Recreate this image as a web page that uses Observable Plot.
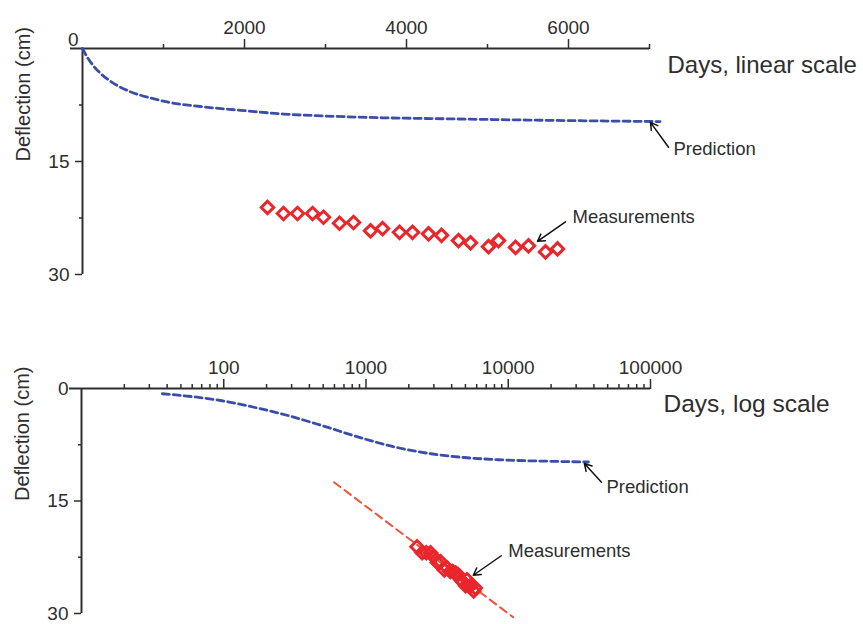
<!DOCTYPE html>
<html><head><meta charset="utf-8">
<script src="https://cdn.jsdelivr.net/npm/d3@7"></script>
<script src="https://cdn.jsdelivr.net/npm/@observablehq/plot@0.6"></script>
<style>
body{margin:0;background:#fff;}
#chart svg{display:block;}
</style></head><body><div id="chart"></div>
<script>
// ---- data ----
const measDays = [2284,2481,2654,2840,2975,3173,3346,3556,3704,3914,4074,4272,4432,4642,4790,5012,5136,5346,5506,5716,5864];
const measDefl = [21.1,21.9,21.9,21.9,22.4,23.2,23.1,24.2,23.9,24.4,24.4,24.6,24.8,25.5,25.8,26.3,25.5,26.4,26.2,27.0,26.6];

const predLinDays = [0,50,120,222,300,428,560,716,850,1045,1457,1950,2480,3100,3716,4296,5500,7130];
const predLinDefl = [0,1.0,2.1,3.3,4.0,4.9,5.6,6.2,6.6,7.1,7.7,8.2,8.7,9.0,9.2,9.3,9.5,9.7];

const predLogDays = [37,95,163,282,482,968,1680,2870,4900,8510,19100,36600];
const predLogDefl = [0.7,1.6,2.5,3.6,4.9,6.7,7.9,8.7,9.2,9.5,9.7,9.8];

const fitLogDays = [596,10840];
const fitLogDefl = [12.5,30.5];

const linMajorTicks = [2000,4000,6000];
const linMinorTicks = [1000,3000,5000,7000];
const logMajorTicks = [100,1000,10000,100000];
const yMajorTicks = [15,30];
const yMinorTicks = [7.5,22.5];

const annotLabels = ["Prediction","Measurements"];
// linear panel annotations
const linLabelDays = [7296,6049];
const linLabelDefl = [13.4,22.4];
const linArrowFromDays = [7235,5963];
const linArrowFromDefl = [13.1,23.0];
const linArrowToDays = [7012,5617];
const linArrowToDefl = [9.8,25.6];
// log panel annotations
const logLabelDays = [49000,10000];
const logLabelDefl = [13.2,21.7];
const logArrowFromDays = [45200,8930];
const logArrowFromDefl = [12.5,22.3];
const logArrowToDays = [34300,5680];
const logArrowToDefl = [10.0,24.9];

// ---- styles ----
const FONT = "'Liberation Sans', Arial, Helvetica, sans-serif";
const INK = "#2e2e2e";
const BLUE = "#3a4dab";
const RED = "#e8262b";
const FITRED = "#f0523a";

const meas = measDays.map((d,i)=>({day:d, defl:measDefl[i]}));
const predLin = predLinDays.map((d,i)=>({day:d, defl:predLinDefl[i]}));
const predLog = predLogDays.map((d,i)=>({day:d, defl:predLogDefl[i]}));
const fitLog = fitLogDays.map((d,i)=>({day:d, defl:fitLogDefl[i]}));
const linAnn = annotLabels.map((t,i)=>({t, x:linLabelDays[i], y:linLabelDefl[i], x1:linArrowFromDays[i], y1:linArrowFromDefl[i], x2:linArrowToDays[i], y2:linArrowToDefl[i]}));
const logAnn = annotLabels.map((t,i)=>({t, x:logLabelDays[i], y:logLabelDefl[i], x1:logArrowFromDays[i], y1:logArrowFromDefl[i], x2:logArrowToDays[i], y2:logArrowToDefl[i]}));

const logMinorTicks = [];
for (const dec of [10,100,1000,10000]) for (let k=2;k<=9;k++) logMinorTicks.push(dec*k);

function yAxisMarks(showZeroLabel, xmin) {
  return [
    Plot.axisY(yMajorTicks, {anchor:"left", tickSize:7, tickPadding:6, color:INK, strokeWidth:1.5, fontSize:19, tickFormat:d=>String(d)}),
    Plot.axisY(yMinorTicks, {anchor:"left", tickSize:3, color:INK, strokeWidth:1.5, tickFormat:()=>""}),
    Plot.axisY([0], {anchor:"left", tickSize:12, color:INK, strokeWidth:2, tickPadding:showZeroLabel?1:0, fontSize:19, tickFormat:d=>showZeroLabel?String(d):""}),
    Plot.ruleY([0], {stroke:INK, strokeWidth:2}),
    Plot.ruleX([xmin], {stroke:INK, strokeWidth:2}),
    Plot.text(["Deflection (cm)"], {text:d=>d, frameAnchor:"left", rotate:-90, dx:-59, fontSize:20, fill:INK})
  ];
}

function annotMarks(ann) {
  return [
    Plot.arrow(ann, {x1:"x1", y1:"y1", x2:"x2", y2:"y2", stroke:"#111", strokeWidth:1.5, headLength:8}),
    Plot.text(ann, {x:"x", y:"y", text:"t", textAnchor:"start", fontSize:18.5, fill:INK})
  ];
}

const topChart = Plot.plot({
  width:863, height:312,
  marginLeft:82, marginRight:214, marginTop:48, marginBottom:38,
  style:{fontFamily:FONT, fontSize:"19px", color:INK, background:"white", overflow:"visible"},
  x:{type:"linear", domain:[0,7000], axis:null},
  y:{domain:[0,30], reverse:true, axis:null},
  marks:[
    Plot.axisX(linMajorTicks, {anchor:"top", tickSize:10, tickPadding:5, color:INK, strokeWidth:1.5, fontSize:19, tickFormat:d=>String(d)}),
    Plot.axisX(linMinorTicks, {anchor:"top", tickSize:5, color:INK, strokeWidth:1.5, tickFormat:()=>""}),
    ...yAxisMarks(false, 0),
    Plot.text([0], {text:d=>String(d), frameAnchor:"top-left", dx:-4, dy:-16, textAnchor:"end", fontSize:19, fill:INK}),
    Plot.line(predLin, {x:"day", y:"defl", stroke:BLUE, strokeWidth:2.8, strokeDasharray:"7,4", curve:"monotone-x"}),
    Plot.dot(meas, {x:"day", y:"defl", symbol:"diamond2", r:5.6, stroke:RED, strokeWidth:3}),
    ...annotMarks(linAnn),
    Plot.text(["Days, linear scale"], {text:d=>d, frameAnchor:"top-right", dx:18, dy:7, textAnchor:"start", fontSize:24, fill:INK})
  ]
});

const botChart = Plot.plot({
  width:863, height:312,
  marginLeft:81, marginRight:213, marginTop:76, marginBottom:11,
  style:{fontFamily:FONT, fontSize:"19px", color:INK, background:"white", overflow:"visible"},
  x:{type:"log", domain:[10,100000], axis:null},
  y:{domain:[0,30], reverse:true, axis:null},
  marks:[
    Plot.axisX(logMajorTicks, {anchor:"top", tickSize:10, tickPadding:5, color:INK, strokeWidth:1.5, fontSize:19, tickFormat:d=>String(d)}),
    Plot.axisX(logMinorTicks, {anchor:"top", tickSize:5, color:INK, strokeWidth:1.5, tickFormat:()=>""}),
    ...yAxisMarks(true, 10),
    Plot.line(predLog, {x:"day", y:"defl", stroke:BLUE, strokeWidth:2.8, strokeDasharray:"7,4", curve:"monotone-x"}),
    Plot.line(fitLog, {x:"day", y:"defl", stroke:FITRED, strokeWidth:2, strokeDasharray:"8,5"}),
    Plot.dot(meas, {x:"day", y:"defl", symbol:"diamond2", r:5.6, stroke:RED, strokeWidth:3}),
    ...annotMarks(logAnn),
    Plot.text(["Days, log scale"], {text:d=>d, frameAnchor:"top-right", dx:13, dy:6, textAnchor:"start", fontSize:24.5, fill:INK})
  ]
});

document.getElementById("chart").append(topChart, botChart);
</script>
</body></html>
